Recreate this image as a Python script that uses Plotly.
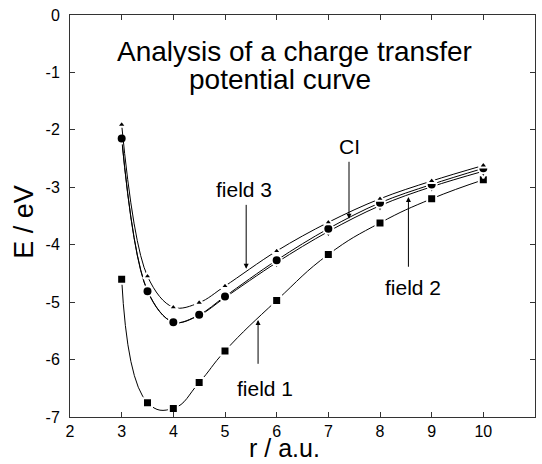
import plotly.graph_objects as go

r = [3, 3.5, 4, 4.5, 5, 6, 7, 8, 9, 10]
field1 = [-4.60, -6.75, -6.85, -6.40, -5.85, -4.97, -4.17, -3.62, -3.20, -2.87]
field2 = [-2.15, -4.80, -5.35, -5.23, -4.92, -4.31, -3.77, -3.32, -2.99, -2.72]
ci     = [-2.15, -4.81, -5.35, -5.22, -4.90, -4.27, -3.72, -3.27, -2.95, -2.67]
field3 = [-1.91, -4.55, -5.09, -5.01, -4.72, -4.11, -3.61, -3.20, -2.89, -2.62]

xticks = [2, 3, 4, 5, 6, 7, 8, 9, 10, 11]
yticks = [0, -1, -2, -3, -4, -5, -6, -7]
ytext = ["0", "-1", "-2", "-3", "-4", "-5", "-6", "-7"]

FONT = "Liberation Sans, Arial, sans-serif"

fig = go.Figure()

def add(y, sym, size, name, smooth=1.0):
    fig.add_trace(go.Scatter(
        x=r, y=y, mode="lines+markers", name=name,
        line=dict(color="black", width=1, shape="spline", smoothing=smooth),
        marker=dict(symbol=sym, size=size, color="black",
                    line=dict(color="white", width=2)),
        showlegend=False))

add(field1, "square", 9, "field 1", 1.3)
add(field2, "diamond-tall", 10, "field 2")
add(ci, "circle", 10, "CI")
add(field3, "triangle-up", 8, "field 3")

ann = []
def arrow(tx, ty, ax, ay):
    ann.append(dict(x=tx, y=ty, ax=ax, ay=ay, xref="x", yref="y",
                    axref="x", ayref="y", text="", showarrow=True,
                    arrowhead=2, arrowsize=1, arrowwidth=1,
                    arrowcolor="black", standoff=0, startstandoff=0))

def label(x, y, t, size=21):
    ann.append(dict(x=x, y=y, xref="x", yref="y", text=t, showarrow=False,
                    font=dict(family=FONT, size=size, color="black"),
                    xanchor="center", yanchor="middle"))

arrow(5.41, -4.42, 5.41, -3.28)
label(5.37, -3.03, "field 3")
arrow(7.40, -3.55, 7.40, -2.53)
label(7.40, -2.29, "CI")
arrow(8.55, -3.17, 8.55, -4.41)
label(8.64, -4.74, "field 2")
arrow(5.64, -5.31, 5.64, -6.10)
label(5.77, -6.50, "field 1")

label(6.34, -0.64, "Analysis of a charge transfer", 28)
label(6.07, -1.13, "potential curve", 28)

ann.append(dict(x=-0.099, y=-3.60, xref="paper", yref="y", text="E / eV",
                textangle=-90, showarrow=False,
                font=dict(family=FONT, size=27, color="black"),
                xanchor="center", yanchor="middle"))
ann.append(dict(x=0.462, y=-0.115, xref="paper", yref="paper", text="r / a.u.",
                showarrow=False, font=dict(family=FONT, size=25, color="black"),
                xanchor="center", yanchor="bottom", borderpad=0))

fig.update_layout(
    width=542, height=464,
    margin=dict(l=70, r=7, t=15, b=47),
    paper_bgcolor="white", plot_bgcolor="white",
    annotations=ann,
    font=dict(family=FONT, color="black"),
)
fig.update_xaxes(range=[2, 11], tickvals=xticks, ticks="inside", ticklen=5,
                 tickcolor="#333", showline=True, linecolor="#333", linewidth=1,
                 mirror="ticks", showgrid=False, zeroline=False,
                 tickfont=dict(family=FONT, size=16, color="black"),
                 ticklabelstandoff=0)
fig.update_yaxes(range=[-7, 0], tickvals=yticks, ticktext=ytext, ticks="inside",
                 ticklen=5, tickcolor="#333", showline=True, linecolor="#333",
                 linewidth=1, mirror="ticks", showgrid=False, zeroline=False,
                 tickfont=dict(family=FONT, size=16, color="black"),
                 ticklabelstandoff=6)

fig.write_html("out.html")
